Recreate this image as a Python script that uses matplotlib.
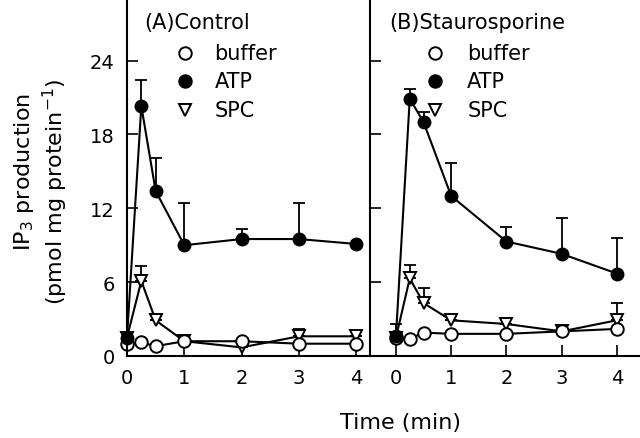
import numpy as np
import matplotlib.pyplot as plt

plt.rcParams['font.family'] = 'DejaVu Sans'

t = [0, 0.25, 0.5, 1, 2, 3, 4]

# (A) Control
a_buffer = [1.0, 1.1, 0.8, 1.2, 1.2, 1.0, 1.0]
a_atp = [1.5, 20.3, 13.4, 9.0, 9.5, 9.5, 9.1]
a_atp_top = [1.5, 22.4, 16.1, 12.4, 10.3, 12.4, 9.1]
a_spc = [1.5, 6.1, 2.9, 1.2, 0.7, 1.6, 1.6]
a_spc_top = [1.5, 7.3, 2.9, 1.2, 0.7, 2.2, 1.6]

# (B) Staurosporine
b_buffer = [1.5, 1.4, 1.9, 1.8, 1.8, 2.0, 2.2]
b_atp = [1.6, 20.9, 19.0, 13.0, 9.3, 8.3, 6.7]
b_atp_top = [2.6, 21.7, 19.8, 15.7, 10.5, 11.2, 9.6]
b_spc = [1.5, 6.3, 4.3, 2.9, 2.6, 2.0, 2.9]
b_spc_top = [1.5, 7.4, 5.5, 2.9, 2.6, 2.0, 4.3]

yticks = [0, 6, 12, 18, 24]
xticks = [0, 1, 2, 3, 4]

fig = plt.figure(figsize=(6.4, 4.39), dpi=100)
axA = fig.add_axes([127/640, 1-357/439, (370-127)/640, 357/439])
axB = fig.add_axes([370/640, 1-357/439, (640-370)/640, 357/439])


def panel(ax, buf, atp, atp_top, spc, spc_top, title):
    ms = 9
    for y, top in [(atp, atp_top), (spc, spc_top)]:
        up = np.array(top) - np.array(y)
        ax.errorbar(t, y, yerr=[np.zeros(len(y)), up], fmt='none',
                    ecolor='black', elinewidth=1.3, capsize=4, capthick=1.3)
    ax.plot(t, spc, color='black', lw=1.5, marker='v', ms=ms,
            mfc='white', mec='black', mew=1.4)
    ax.plot(t, buf, color='black', lw=1.5, marker='o', ms=ms,
            mfc='white', mec='black', mew=1.4)
    ax.plot(t, atp, color='black', lw=1.5, marker='o', ms=ms,
            mfc='black', mec='black')
    ax.set_ylim(0, 29)
    ax.set_yticks(yticks)
    ax.set_xticks(xticks)
    ax.tick_params(direction='in', length=8, width=1.2, labelsize=14)
    ax.tick_params(axis='x', pad=9)
    ax.tick_params(axis='y', pad=9)
    for s in ['top', 'right']:
        ax.spines[s].set_visible(False)
    for s in ['left', 'bottom']:
        ax.spines[s].set_linewidth(1.5)
    ax.text(0.07, 0.935, title, transform=ax.transAxes, fontsize=15,
            va='center', ha='left')
    labels = ['buffer', 'ATP', 'SPC']
    styles = [('o', 'white'), ('o', 'black'), ('v', 'white')]
    for i in range(3):
        yy = 0.85 - i * 0.08
        ax.plot([0.24], [yy], transform=ax.transAxes, marker=styles[i][0],
                ms=ms, mfc=styles[i][1], mec='black', mew=1.4, ls='none')
        ax.text(0.36, yy, labels[i], transform=ax.transAxes, fontsize=15,
                va='center', ha='left')


panel(axA, a_buffer, a_atp, a_atp_top, a_spc, a_spc_top, '(A)Control')
panel(axB, b_buffer, b_atp, b_atp_top, b_spc, b_spc_top, '(B)Staurosporine')

axA.set_xlim(0, 4.24)
axB.set_xlim(-0.47, 4.42)
axB.set_yticklabels([])
for ax in [axA, axB]:
    ax.spines['left'].set_zorder(5)
for line in axA.lines + axB.lines:
    line.set_clip_on(False)

fig.text(24/640, 1-172/439, 'IP$_3$ production', rotation=90,
         ha='center', va='center', fontsize=16)
fig.text(55/640, 1-192/439, '(pmol mg protein$^{-1}$)', rotation=90,
         ha='center', va='center', fontsize=16)
fig.text(400/640, 1-423/439, 'Time (min)', ha='center', va='center',
         fontsize=16)

fig.savefig('out.png', dpi=100)
